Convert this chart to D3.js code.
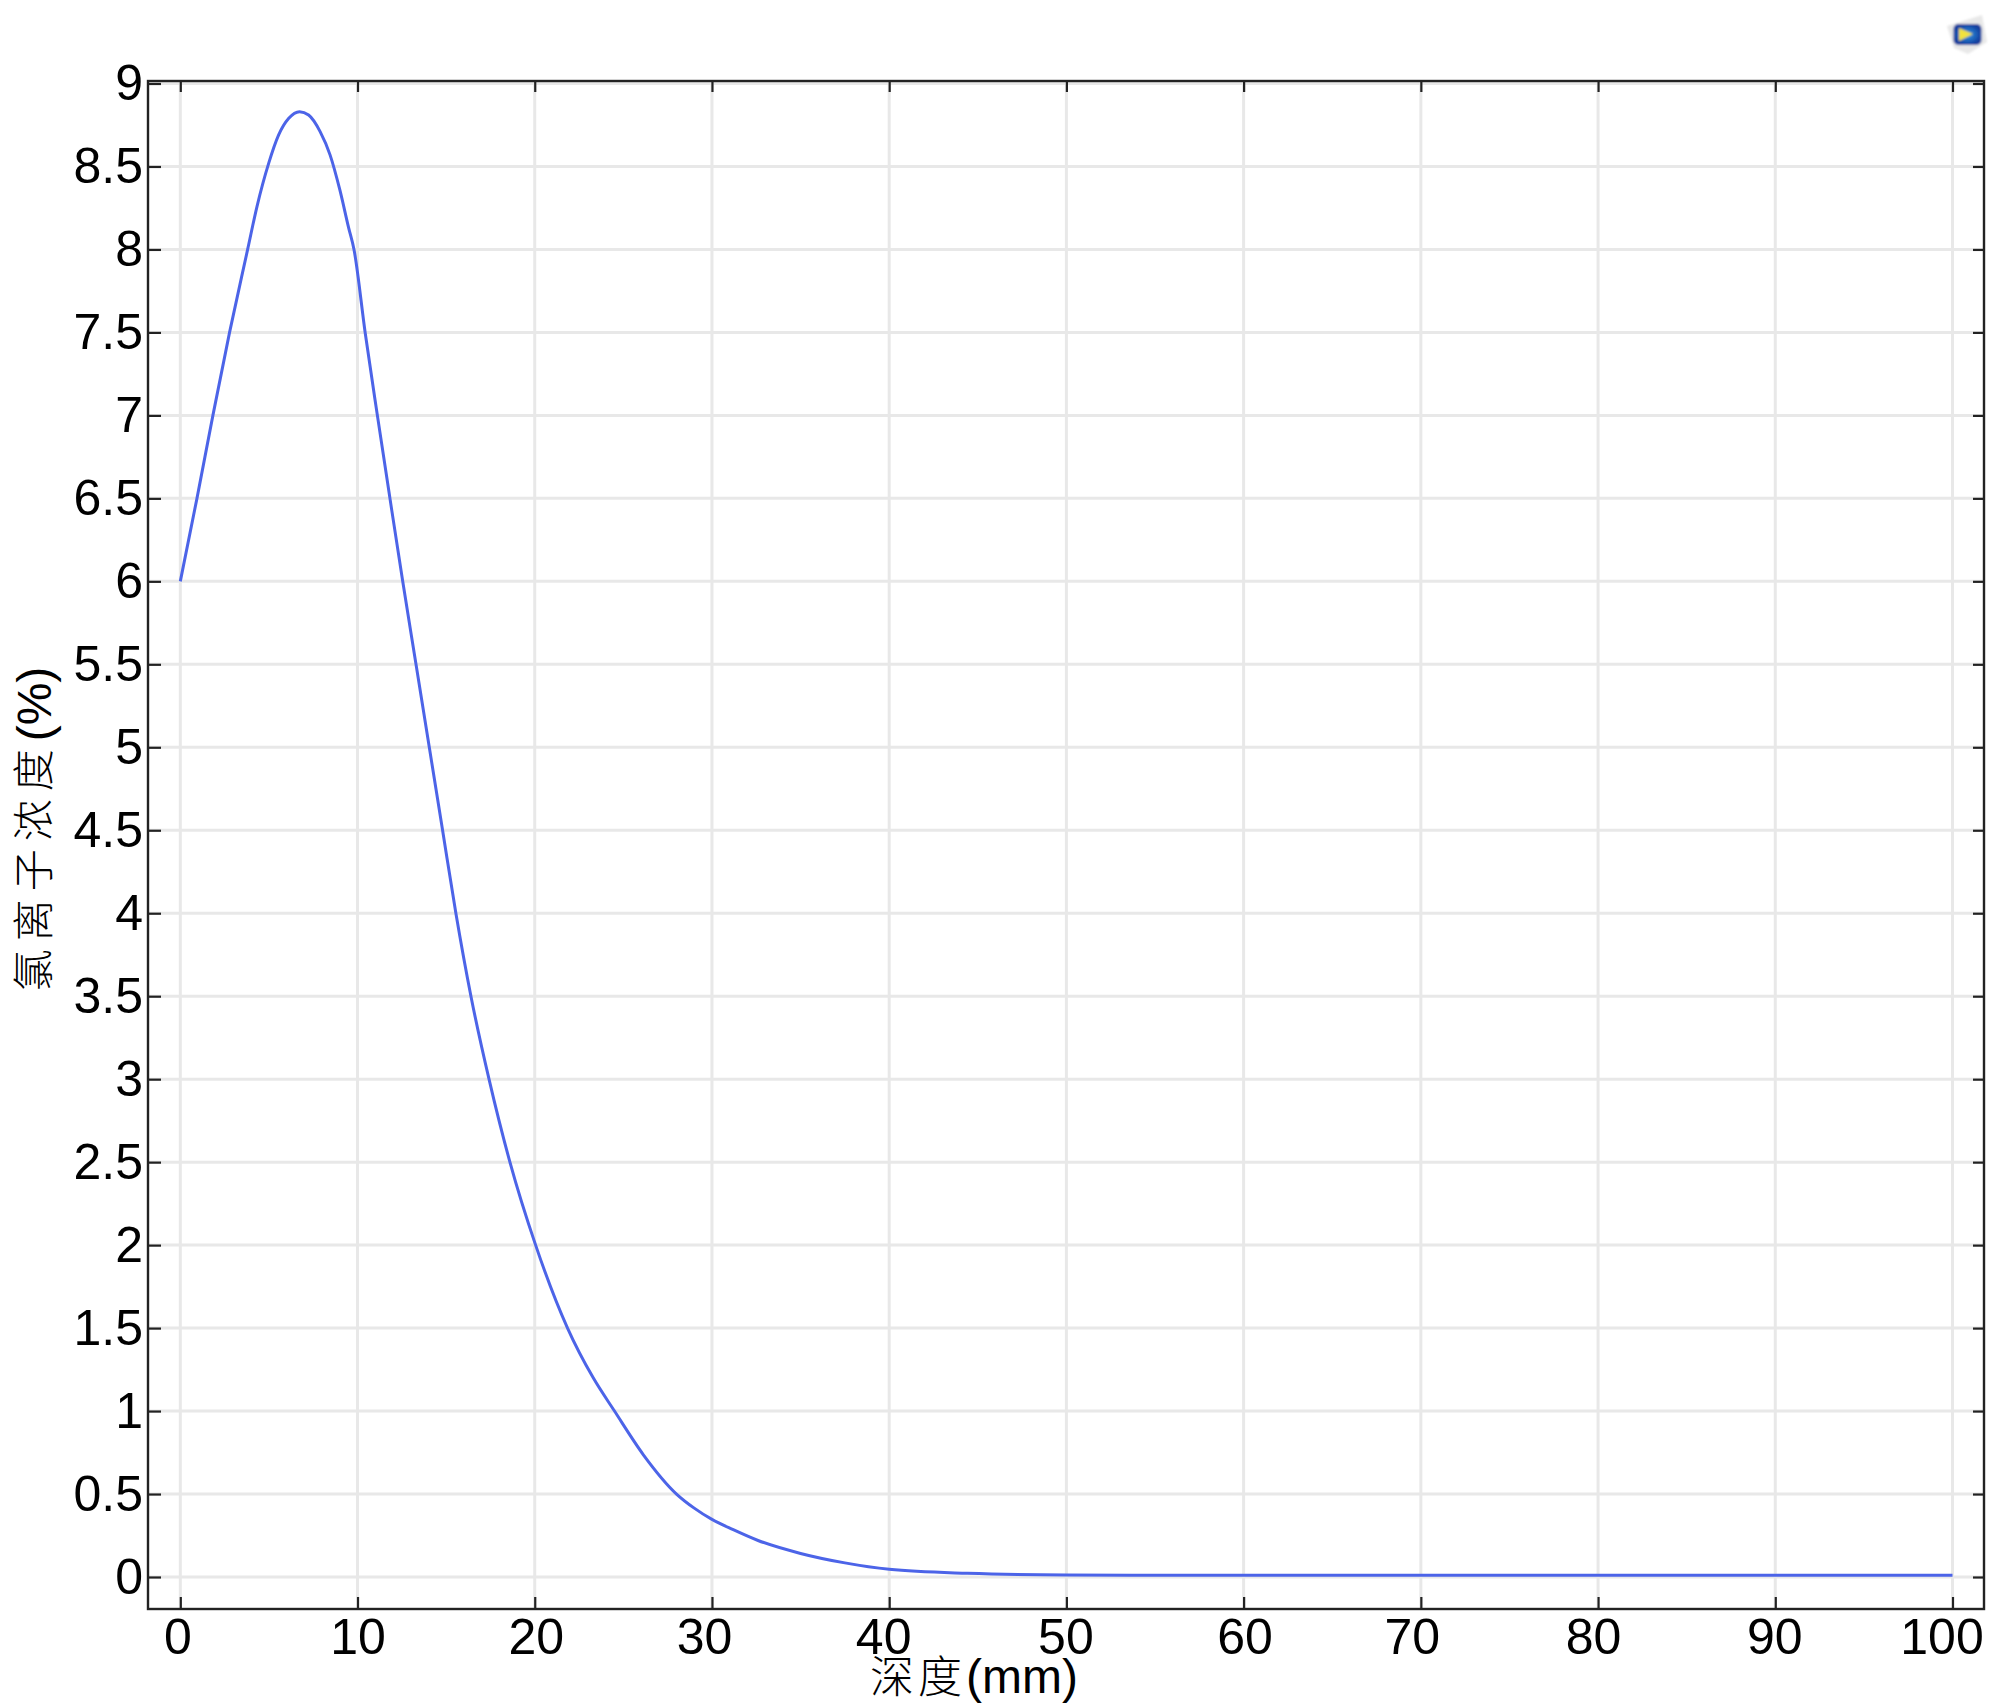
<!DOCTYPE html>
<html>
<head>
<meta charset="utf-8">
<script src="https://cdn.jsdelivr.net/npm/d3@7"></script>
<style>
  html, body { margin: 0; background: #fff; }
  svg { display: block; }
  text { font-family: "Liberation Sans", Arial, sans-serif; fill: #000; }
  .cjk { font-family: "Noto Sans CJK SC", sans-serif; font-weight: 300; }
</style>
</head>
<body>
<svg width="2000" height="1708"></svg>
<script>
const depth = [0, 0.94, 1.84, 2.78, 3.8, 4.33, 4.99, 5.55, 6.12, 6.73, 7.24, 7.89, 8.45, 9.0, 9.5, 9.8,
  10.43, 11.12, 11.83, 12.55, 13.3, 14.05, 14.8, 15.55, 16.4, 17.42, 18.6, 20.05, 21.85, 23.3, 24.5, 26.14, 28.0,
  29, 30, 31.2, 32.6, 35, 37.5, 40, 44.4, 50, 60, 70, 80, 90, 100];
const chloride = [6, 6.5, 7, 7.5, 8, 8.26, 8.52, 8.69, 8.79, 8.83, 8.81, 8.71, 8.57, 8.36, 8.13, 8,
  7.5, 7, 6.5, 6, 5.5, 5, 4.5, 4, 3.5, 3, 2.5, 2, 1.5, 1.2, 1, 0.735, 0.5,
  0.415, 0.347, 0.285, 0.22, 0.142, 0.085, 0.046, 0.022, 0.012, 0.01, 0.01, 0.01, 0.01, 0.01];

const xTicks = [0, 10, 20, 30, 40, 50, 60, 70, 80, 90, 100];
const yTicks = [0, 0.5, 1, 1.5, 2, 2.5, 3, 3.5, 4, 4.5, 5, 5.5, 6, 6.5, 7, 7.5, 8, 8.5, 9];

const frame = { left: 148, right: 1984, top: 81, bottom: 1609 };
const x = d3.scaleLinear().domain([0, 100]).range([180.3, 1952.5]);
const y = d3.scaleLinear().domain([0, 9]).range([1577, 83.5]);

// the x labels sit a bit unevenly in the original
const xLabelShift = { 0: -3, 10: 0, 20: 1, 30: -8, 40: -6, 50: -1, 60: 1, 70: -9, 80: -5, 90: -1, 100: -11 };

const svg = d3.select("svg");

// grid
svg.append("g")
  .selectAll("line")
  .data(xTicks)
  .join("line")
  .attr("x1", (d) => x(d))
  .attr("x2", (d) => x(d))
  .attr("y1", frame.top)
  .attr("y2", frame.bottom)
  .attr("stroke", "#e8e8e8")
  .attr("stroke-width", 3);

svg.append("g")
  .selectAll("line")
  .data(yTicks)
  .join("line")
  .attr("x1", frame.left)
  .attr("x2", frame.right)
  .attr("y1", (d) => y(d))
  .attr("y2", (d) => y(d))
  .attr("stroke", "#e8e8e8")
  .attr("stroke-width", 3);

// curve
const line = d3.line().curve(d3.curveMonotoneX).x((d) => x(d)).y((d, i) => y(chloride[i]));
svg.append("path")
  .attr("d", line(depth))
  .attr("fill", "none")
  .attr("stroke", "#4c64e8")
  .attr("stroke-width", 3)
  .attr("stroke-linejoin", "round");

// frame
svg.append("rect")
  .attr("x", frame.left)
  .attr("y", frame.top)
  .attr("width", frame.right - frame.left)
  .attr("height", frame.bottom - frame.top)
  .attr("fill", "none")
  .attr("stroke", "#222")
  .attr("stroke-width", 2.4);

const styleAxis = (g) => {
  g.select(".domain").remove();
  g.selectAll("line").attr("stroke", "#222").attr("stroke-width", 2.2);
  g.selectAll("text").style("font-size", "50px").attr("fill", "#000");
};

// bottom and left axes carry the labels
const bottom = svg.append("g")
  .attr("transform", `translate(0,${frame.bottom})`)
  .call(d3.axisBottom(x).tickValues(xTicks).tickSize(-12).tickPadding(9.5).tickFormat(d3.format("d")))
  .call(styleAxis);
bottom.selectAll("text").attr("dx", (d) => xLabelShift[d]);

svg.append("g")
  .attr("transform", `translate(${frame.left},0)`)
  .call(d3.axisLeft(y).tickValues(yTicks).tickSize(-13).tickPadding(5).tickFormat((d) => String(d)))
  .call(styleAxis);

// top and right only have tick marks
svg.append("g")
  .attr("transform", `translate(0,${frame.top})`)
  .call(d3.axisTop(x).tickValues(xTicks).tickSize(-11).tickFormat(""))
  .call(styleAxis);

svg.append("g")
  .attr("transform", `translate(${frame.right},0)`)
  .call(d3.axisRight(y).tickValues(yTicks).tickSize(-11).tickFormat(""))
  .call(styleAxis);

// axis titles
const xTitle = svg.append("text")
  .attr("x", 974)
  .attr("y", 1693)
  .attr("text-anchor", "middle");
xTitle.append("tspan").attr("class", "cjk").style("font-size", "44px").style("letter-spacing", "4px").text("深度");
xTitle.append("tspan").style("font-size", "48px").text("(mm)");

const yTitle = svg.append("text")
  .attr("transform", "translate(49,829) rotate(-90)")
  .attr("text-anchor", "middle");
yTitle.append("tspan").attr("class", "cjk").style("font-size", "42px").style("letter-spacing", "8px").text("氯离子浓度");
yTitle.append("tspan").attr("dy", 2).style("font-size", "48px").text("(%)");

// small logo top right
const defs = svg.append("defs");
defs.append("filter").attr("id", "soft")
  .append("feGaussianBlur").attr("stdDeviation", 1);
const glow = defs.append("radialGradient").attr("id", "logoFill");
glow.append("stop").attr("offset", "0%").attr("stop-color", "#2f9be8");
glow.append("stop").attr("offset", "100%").attr("stop-color", "#123c9c");

const logo = svg.append("g").attr("filter", "url(#soft)");
logo.append("path")
  .attr("d", "M1947,26 L1982,15 L1987,42 L1968,54 L1954,48 Z")
  .attr("fill", "#e8e8e8");
logo.append("rect")
  .attr("x", 1953.5)
  .attr("y", 24)
  .attr("width", 28)
  .attr("height", 21)
  .attr("rx", 5)
  .attr("fill", "url(#logoFill)");
logo.append("path")
  .attr("d", "M1959,28 L1973,34 L1959,41 Z")
  .attr("fill", "#f2e23c");
</script>
</body>
</html>
